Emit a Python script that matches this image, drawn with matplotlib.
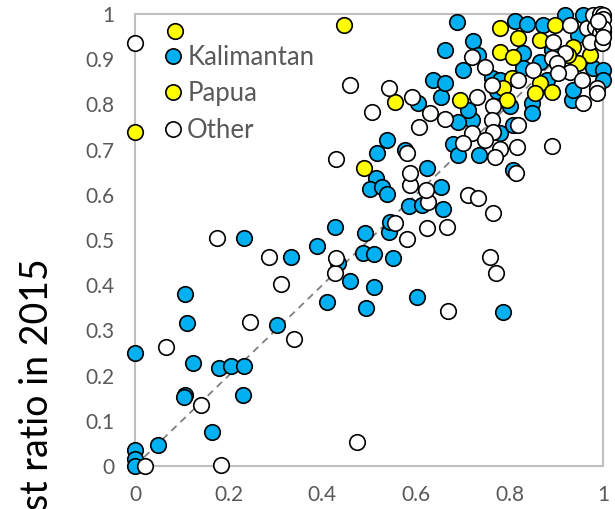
import matplotlib.pyplot as plt
from matplotlib.lines import Line2D

plt.rcParams['font.family'] = ['Lato', 'DejaVu Sans']

# Kalimantan (x: earlier forest ratio, y: forest ratio in 2015)
kal_x = [0.00, 0.00, 0.00, 0.00, 0.049, 0.107, 0.111, 0.124, 0.107, 0.105,
         0.165, 0.179, 0.205, 0.233, 0.231, 0.233, 0.303, 0.333, 0.410, 0.389,
         0.434, 0.427, 0.459, 0.491, 0.487, 0.511, 0.551, 0.511, 0.494, 0.603,
         0.786, 0.543, 0.545, 0.585, 0.613, 0.658, 0.654, 0.624, 0.515, 0.502,
         0.528, 0.538, 0.517, 0.538, 0.577, 0.808, 0.679, 0.690, 0.735, 0.780,
         0.808, 0.720, 0.690, 0.712, 0.605, 0.654, 0.637, 0.662, 0.701, 0.662,
         0.722, 0.733, 0.688, 0.812, 0.838, 0.872, 0.919, 0.957, 0.829, 0.829,
         0.763, 0.780, 0.774, 0.801, 0.848, 0.848, 0.934, 0.947, 0.891, 0.865,
         0.880, 0.979, 1.00, 1.00, 0.936]
kal_y = [0.25, 0.035, 0.015, 0.00, 0.046, 0.381, 0.316, 0.228, 0.157, 0.153,
         0.075, 0.217, 0.221, 0.221, 0.157, 0.504, 0.312, 0.462, 0.363, 0.487,
         0.449, 0.529, 0.409, 0.515, 0.471, 0.469, 0.460, 0.396, 0.350, 0.374,
         0.341, 0.518, 0.540, 0.575, 0.577, 0.569, 0.617, 0.659, 0.637, 0.613,
         0.617, 0.602, 0.692, 0.721, 0.699, 0.655, 0.712, 0.688, 0.688, 0.737,
         0.754, 0.765, 0.761, 0.788, 0.803, 0.816, 0.854, 0.847, 0.876, 0.920,
         0.940, 0.909, 0.982, 0.985, 0.978, 0.976, 0.998, 0.998, 0.914, 0.881,
         0.858, 0.854, 0.830, 0.796, 0.803, 0.781, 0.810, 0.954, 0.920, 0.894,
         0.854, 0.881, 0.876, 0.854, 0.832]

# Papua
pap_x = [0.00, 0.085, 0.447, 0.489, 0.556, 0.694, 0.780, 0.818, 0.780, 0.808,
         0.806, 0.786, 0.795, 0.897, 0.865, 0.936, 0.972, 0.947, 0.865, 0.891,
         0.855, 1.00, 0.925]
pap_y = [0.739, 0.962, 0.976, 0.659, 0.805, 0.810, 0.969, 0.947, 0.916, 0.905,
         0.858, 0.836, 0.810, 0.976, 0.942, 0.927, 0.909, 0.892, 0.847, 0.827,
         0.825, 0.960, 0.909]

# Other
oth_x = [0.00, 0.021, 0.066, 0.141, 0.184, 0.175, 0.246, 0.340, 0.312, 0.286,
         0.427, 0.429, 0.474, 0.459, 0.429, 0.759, 0.771, 0.669, 0.624, 0.667,
         0.581, 0.556, 0.626, 0.622, 0.588, 0.588, 0.581, 0.607, 0.506, 0.543,
         0.592, 0.630, 0.662, 0.731, 0.765, 0.763, 0.720, 0.765, 0.818, 0.748,
         0.701, 0.780, 0.769, 0.816, 0.891, 0.814, 0.712, 0.733, 0.765, 0.720,
         0.748, 0.763, 0.818, 0.850, 0.893, 0.929, 0.966, 0.983, 0.994, 0.972,
         0.998, 0.919, 0.891, 0.902, 0.929, 0.904, 0.955, 0.987, 0.957, 0.987,
         0.979, 0.994, 1.00, 1.00, 1.00, 0.99, 1.00]
oth_y = [0.936, 0.00, 0.263, 0.135, 0.002, 0.504, 0.319, 0.281, 0.403, 0.462,
         0.427, 0.460, 0.053, 0.843, 0.679, 0.462, 0.427, 0.343, 0.527, 0.529,
         0.502, 0.538, 0.584, 0.611, 0.622, 0.648, 0.692, 0.750, 0.783, 0.836,
         0.816, 0.781, 0.768, 0.816, 0.796, 0.765, 0.737, 0.739, 0.754, 0.721,
         0.715, 0.701, 0.684, 0.706, 0.708, 0.648, 0.600, 0.593, 0.560, 0.905,
         0.883, 0.843, 0.854, 0.876, 0.938, 0.976, 0.969, 0.971, 0.958, 0.938,
         0.936, 0.914, 0.903, 0.892, 0.872, 0.869, 0.854, 0.836, 0.803, 0.825,
         0.998, 1.00, 0.998, 0.99, 0.97, 0.985, 0.95]

series = [
    ("Kalimantan", kal_x, kal_y, "#00B0F0"),
    ("Papua", pap_x, pap_y, "#FFFF00"),
    ("Other", oth_x, oth_y, "#FFFFFF"),
]

fig = plt.figure(figsize=(6.15, 5.09), dpi=100)
ax = fig.add_axes([0.2195, 0.0845, 0.761, 0.888])

ax.plot([0, 1], [0, 1], ls=(0, (4, 3)), color="#808080", lw=1.3, zorder=1)

for name, xs, ys, col in series:
    ax.scatter(xs, ys, s=125, c=col, edgecolors="black", linewidths=1.2,
               zorder=3, clip_on=False)

ax.set_xlim(0, 1)
ax.set_ylim(0, 1)
ax.set_xticks([0, 0.2, 0.4, 0.6, 0.8, 1])
ax.set_xticklabels(["0", "0.2", "0.4", "0.6", "0.8", "1"])
ax.set_yticks([i / 10 for i in range(11)])
ax.set_yticklabels(["0"] + ["0.%d" % i for i in range(1, 10)] + ["1"])
ax.tick_params(length=0, labelsize=15, colors="#595959")
ax.tick_params(axis="y", pad=15)
ax.tick_params(axis="x", pad=14)
for sp in ax.spines.values():
    sp.set_color("#BFBFBF")
    sp.set_linewidth(1.5)

handles = [Line2D([], [], ls="", marker="o", markersize=11, markerfacecolor=c,
                  markeredgecolor="black", markeredgewidth=1.2)
           for _, _, _, c in series]
leg = ax.legend(handles, [s[0] for s in series], loc="upper left",
                bbox_to_anchor=(0.045, 0.94), frameon=True, framealpha=1,
                edgecolor="none", facecolor="white", fontsize=18.5,
                handletextpad=0.06, labelspacing=0.44, borderpad=0.15,
                handlelength=1.0, borderaxespad=0)
for t in leg.get_texts():
    t.set_color("#595959")
leg.set_zorder(5)

fig.text(37 / 615, 1 - 258 / 509, "Forest ratio in 2015", rotation=90,
         ha="center", va="top", fontsize=27, color="#000000")

fig.savefig("out.png", dpi=100)
